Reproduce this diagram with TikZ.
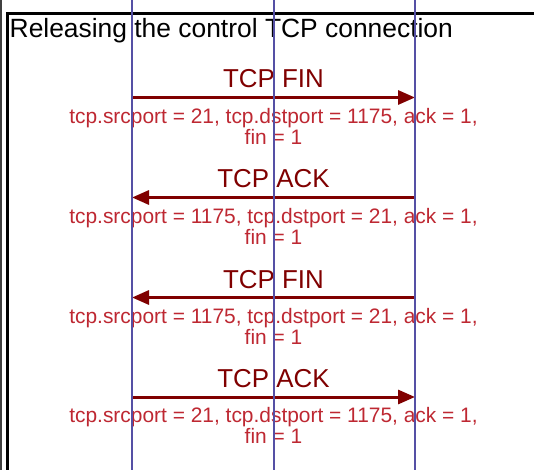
\documentclass[tikz,border=0pt]{standalone}
\usepackage{fontspec}
\setmainfont{Liberation Sans}
\usetikzlibrary{arrows.meta}
\definecolor{lifeline}{RGB}{85,80,165}
\definecolor{msgred}{RGB}{128,0,0}
\definecolor{detred}{RGB}{190,40,50}
\begin{document}
\begin{tikzpicture}[x=1bp,y=-1bp,
  lifelinestyle/.style={draw=lifeline,line width=2bp},
  msgarrow/.style={draw=msgred,line width=3bp,-{Triangle[length=17bp,width=14bp]}},
  msglabel/.style={text=msgred,inner sep=0pt,anchor=base,font=\fontsize{26}{30}\selectfont},
  detlabel/.style={text=detred,inner sep=0pt,anchor=north,align=center,font=\fontsize{21}{21}\selectfont},
  titlestyle/.style={text=black,inner sep=0pt,anchor=base west,font=\fontsize{26.5}{30}\selectfont}]
\useasboundingbox (0,0) rectangle (534,470);
\fill[white] (0,0) rectangle (534,470);
% outer edge and frame
\draw[black!75,line width=1.5bp] (0.75,0) -- (0.75,470);
\draw[black,line width=2.5bp] (7.5,470) -- (7.5,13.5) -- (534,13.5);
\node[titlestyle] (title) at (9.5,37.5) {Releasing the control TCP connection};
% lifeline ends
\coordinate (c1top) at (132,0);   \coordinate (c1bot) at (132,470);
\coordinate (s1top) at (274,0);   \coordinate (s1bot) at (274,470);
\coordinate (c2top) at (415,0);   \coordinate (c2bot) at (415,470);
% message end points
\coordinate (a1) at (132,97.5);  \coordinate (b1) at (415,97.5);
\coordinate (a2) at (132,197.5); \coordinate (b2) at (415,197.5);
\coordinate (a3) at (132,297.5); \coordinate (b3) at (415,297.5);
\coordinate (a4) at (132,397);   \coordinate (b4) at (415,397);
% messages
\draw[msgarrow] (a1) -- (b1);
\node[msglabel] (m1) at (273.5,88) {TCP FIN};
\node[detlabel] (d1) at (273.5,108) {tcp.srcport = 21, tcp.dstport = 1175, ack = 1,\\fin = 1};
\draw[msgarrow] (b2) -- (a2);
\node[msglabel] (m2) at (273.5,188) {TCP ACK};
\node[detlabel] (d2) at (273.5,208) {tcp.srcport = 1175, tcp.dstport = 21, ack = 1,\\fin = 1};
\draw[msgarrow] (b3) -- (a3);
\node[msglabel] (m3) at (273.5,288) {TCP FIN};
\node[detlabel] (d3) at (273.5,308) {tcp.srcport = 1175, tcp.dstport = 21, ack = 1,\\fin = 1};
\draw[msgarrow] (a4) -- (b4);
\node[msglabel] (m4) at (273.5,387.5) {TCP ACK};
\node[detlabel] (d4) at (273.5,407.5) {tcp.srcport = 21, tcp.dstport = 1175, ack = 1,\\fin = 1};
% lifelines on top
\draw[lifelinestyle] (c1top) -- (c1bot);
\draw[lifelinestyle] (s1top) -- (s1bot);
\draw[lifelinestyle] (c2top) -- (c2bot);
\end{tikzpicture}
\end{document}
